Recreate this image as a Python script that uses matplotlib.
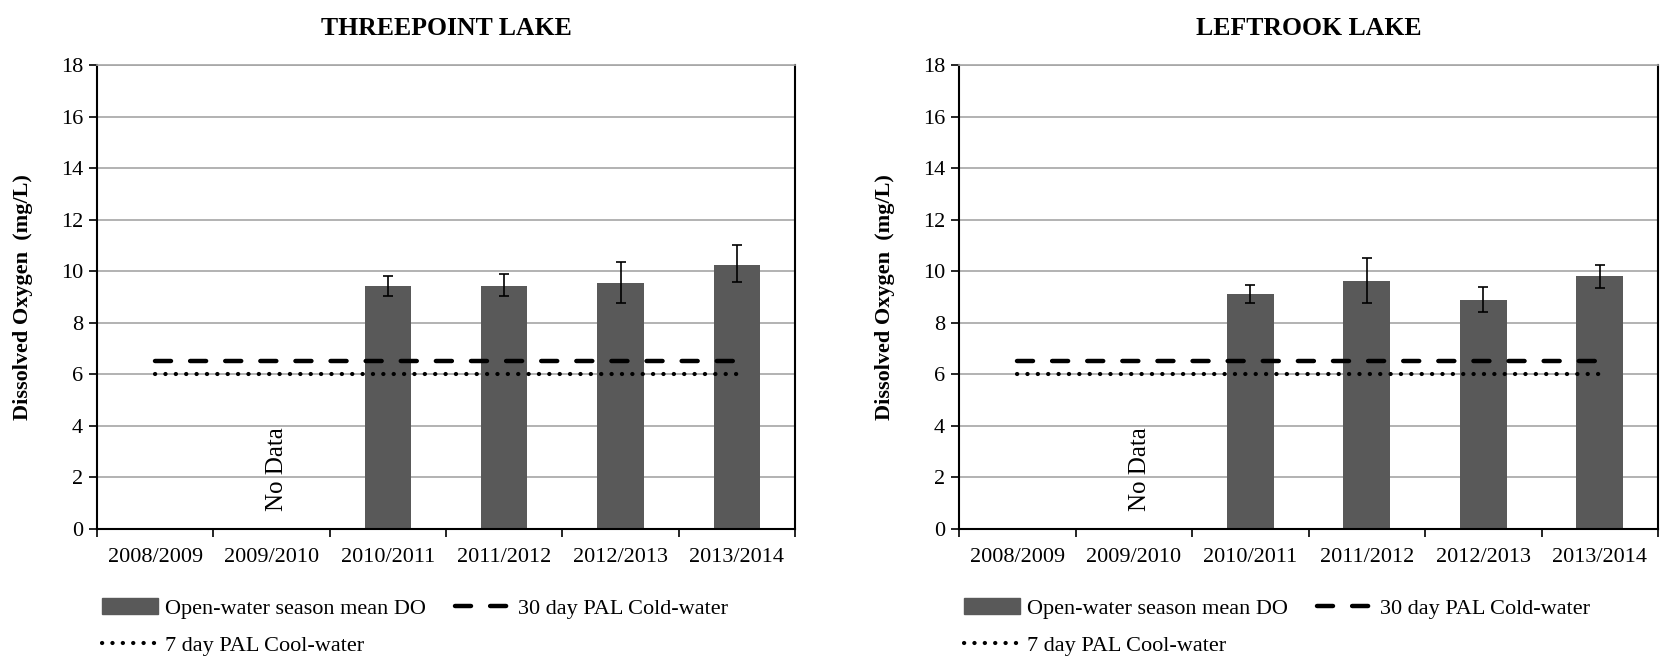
import matplotlib.pyplot as plt
from matplotlib.lines import Line2D
from matplotlib.patches import Patch

seasons = ["2008/2009", "2009/2010", "2010/2011", "2011/2012", "2012/2013", "2013/2014"]
lakes = ["THREEPOINT LAKE", "LEFTROOK LAKE"]

# mean DO per season (None = no data)
threepoint_mean = [None, None, 9.43, 9.43, 9.55, 10.26]
threepoint_low = [None, None, 9.02, 9.02, 8.75, 9.59]
threepoint_high = [None, None, 9.81, 9.91, 10.37, 11.03]

leftrook_mean = [None, None, 9.10, 9.63, 8.90, 9.81]
leftrook_low = [None, None, 8.75, 8.75, 8.41, 9.33]
leftrook_high = [None, None, 9.46, 10.50, 9.39, 10.25]

pal_cold_30day = 6.5
pal_cool_7day = 6.0
no_data_season = 1

plt.rcParams['font.family'] = ['Liberation Serif', 'DejaVu Serif']

BAR = '#595959'
GRID = '#a6a6a6'
DASH = dict(color='black', lw=3.2, linestyle=(0, (3.6, 4.3)), dash_capstyle='round')
DOT = dict(color='black', lw=3.0, linestyle=(0, (0.05, 2.44)), dash_capstyle='round')

fig = plt.figure(figsize=(16.63, 6.58), dpi=100)
W, H = 1663, 658
panels = [
    (97, 795, lakes[0], threepoint_mean, threepoint_low, threepoint_high),
    (959, 1658, lakes[1], leftrook_mean, leftrook_low, leftrook_high),
]

for x0, x1, title, mean, low, high in panels:
    ax = fig.add_axes([x0 / W, 1 - 529 / H, (x1 - x0) / W, (529 - 65) / H])
    idx = [i for i, v in enumerate(mean) if v is not None]
    xs = [i + 0.5 for i in idx]
    vals = [mean[i] for i in idx]
    err = [[mean[i] - low[i] for i in idx], [high[i] - mean[i] for i in idx]]
    ax.bar(xs, vals, width=0.4, color=BAR, zorder=2)
    ax.errorbar(xs, vals, yerr=err, fmt='none', ecolor='black', elinewidth=1.2,
                capsize=3.6, capthick=1.2, zorder=3)

    cx = [0.5, len(seasons) - 0.5]
    ax.plot(cx, [pal_cold_30day] * 2, zorder=4, **DASH)
    ax.plot(cx, [pal_cool_7day] * 2, zorder=4, **DOT)

    ax.text(no_data_season + 0.55, 0.7, "No Data", rotation=90, fontsize=18,
            ha='center', va='bottom')

    ax.set_xlim(0, len(seasons))
    ax.set_ylim(0, 18)
    ax.set_yticks(range(0, 19, 2))
    ax.yaxis.grid(True, color=GRID, lw=1.2, zorder=0)
    ax.set_axisbelow(True)
    ax.set_xticks(range(len(seasons) + 1))
    ax.set_xticklabels([])
    ax.set_xticks([i + 0.5 for i in range(len(seasons))], minor=True)
    ax.set_xticklabels(seasons, minor=True, fontsize=16)
    ax.tick_params(axis='x', which='major', length=6, width=1.2, direction='out')
    ax.tick_params(axis='x', which='minor', length=0, pad=14)
    ax.tick_params(axis='y', length=6, width=1.2, labelsize=16, pad=4)
    for s in ['left', 'bottom', 'right']:
        ax.spines[s].set_linewidth(1.5)
        ax.spines[s].set_color('black')
    ax.spines['top'].set_color(GRID)
    ax.spines['top'].set_linewidth(1.2)

    ax.set_title(title, fontsize=18.5, fontweight='bold', pad=0, y=1 + (65 - 21) / 464 - 0.03)
    fig.text((x0 - 74) / W, 1 - 297 / H, "Dissolved Oxygen  (mg/L)", rotation=90,
             fontsize=16, fontweight='bold', ha='center', va='center')

    handles = [Patch(color=BAR), Line2D([], [], **DOT), Line2D([], [], **DASH)]
    labels = ["Open-water season mean DO", "7 day PAL Cool-water", "30 day PAL Cold-water"]
    fig.legend(handles, labels, loc='upper left', ncol=2, frameon=False,
               bbox_to_anchor=((x0 + 5) / W, 1 - 598 / H), fontsize=16,
               handlelength=2.5, handletextpad=0.35, columnspacing=1.3,
               labelspacing=0.75, borderpad=0, borderaxespad=0)

fig.savefig("out.png", dpi=100)
